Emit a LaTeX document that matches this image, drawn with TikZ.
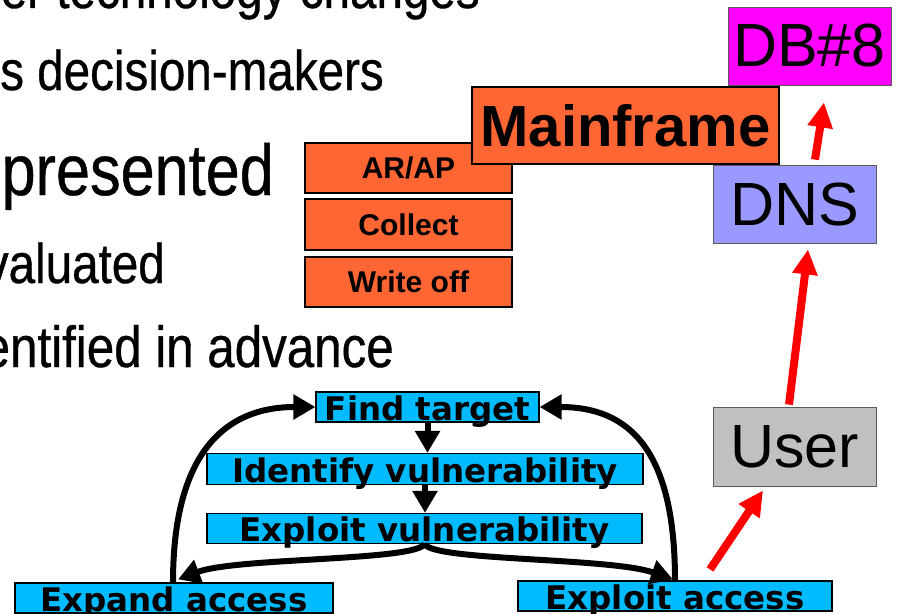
\documentclass[tikz,border=0pt]{standalone}
\usepackage{fontspec}
\setmainfont{Liberation Sans}
\newfontfamily\narrowfont[FakeStretch=0.85,FakeBold=0.6]{Liberation Sans}
\newfontfamily\flowfont{DejaVu Sans}
\usetikzlibrary{arrows.meta}
\definecolor{orangec}{RGB}{255,102,51}
\definecolor{magentac}{RGB}{255,0,255}
\definecolor{dnsc}{RGB}{153,153,255}
\definecolor{userc}{RGB}{192,192,192}
\definecolor{bluec}{RGB}{0,187,255}
\definecolor{redc}{RGB}{255,0,0}
\tikzset{
  lefttext/.style={inner sep=0pt, anchor=base east, font=\narrowfont\fontsize{56}{60}\selectfont},
  orangebox/.style={draw=black, line width=1.5pt, fill=orangec, inner sep=0pt, font=\bfseries\fontsize{30}{30}\selectfont},
  netbox/.style={draw=gray!70!black, line width=0.8pt, inner sep=0pt, minimum width=163pt, minimum height=78pt, font=\fontsize{61}{61}\selectfont},
  flowbox/.style={draw=black, line width=1.2pt, fill=bluec, inner sep=0pt, text height=26pt, text depth=0pt, minimum height=30pt, font=\flowfont\bfseries\fontsize{32.5}{32.5}\selectfont},
  redarrow/.style={draw=redc, line width=8pt, -{Triangle[length=25pt,width=24pt]}},
  blackarrow/.style={draw=black, line width=6pt, -{Triangle[length=22pt,width=24pt]}},
}
\begin{document}
\begin{tikzpicture}[x=1pt,y=-1pt]
\useasboundingbox (0,0) rectangle (899,613);
\clip (0,0) rectangle (899,613);
% left bullet texts
\node[lefttext] (t1) at (480,8) {er technology changes};
\node[lefttext] (t2) at (384,90) {s decision-makers};
\node[lefttext, font=\narrowfont\fontsize{72}{76}\selectfont] (t3) at (274,195) {presented};
\node[lefttext] (t4) at (165,283) {valuated};
\node[lefttext, font=\narrowfont\fontsize{58}{62}\selectfont] (t5) at (394,367) {entified in advance};
% orange boxes
\node[orangebox, minimum width=207pt, minimum height=50pt] (arap) at (408.5,168) {AR/AP};
\node[orangebox, minimum width=207pt, minimum height=51pt] (collect) at (408.5,224.5) {Collect};
\node[orangebox, minimum width=207pt, minimum height=50pt] (writeoff) at (408.5,282) {Write off};
\node[orangebox, minimum width=307pt, minimum height=77pt, font=\bfseries\fontsize{58}{58}\selectfont] (mainframe) at (625.5,125.5) {Mainframe};
% network boxes
\node[netbox, fill=magentac] (db8) at (809.5,46) {DB\#8};
\node[netbox, fill=dnsc] (dns) at (794.5,204) {DNS};
\node[netbox, fill=userc, minimum height=79pt] (user) at (794.5,446.5) {User};
% flow boxes
\node[flowbox, minimum width=223pt] (find) at (427.5,407) {Find target};
\node[flowbox, minimum width=436pt, minimum height=31pt, text height=27pt] (ident) at (425,469) {Identify vulnerability};
\node[flowbox, minimum width=435pt] (exvul) at (424.5,528.5) {Exploit vulnerability};
\node[flowbox, minimum width=318pt] (expand) at (174,598) {Expand access};
\node[flowbox, minimum width=314pt] (eacc) at (675,596) {Exploit access};
% black arrows
\draw[blackarrow] (find.south) -- (find.south |- ident.north);
\draw[blackarrow] (ident.south) -- (ident.south |- exvul.north);
\draw[blackarrow] (exvul.south) .. controls +(-10,17) and +(58,-22) .. ([shift={(4,-3)}]expand.north);
\draw[blackarrow] (exvul.south) .. controls +(10,17) and +(-63,-22) .. ([shift={(-2,-1)}]eacc.north);
\draw[blackarrow] ([xshift=-1pt]expand.north) .. controls +(0,-130) and +(-90,0) .. (find.west);
\draw[blackarrow] (eacc.north) .. controls +(0,-130) and +(90,0) .. (find.east);
% red arrows
\draw[redarrow] ([shift={(35,-11)}]eacc.north) -- ([shift={(-31.5,4)}]user.south);
\draw[redarrow] ([shift={(-5.5,-2)}]user.north) -- ([shift={(13.5,6)}]dns.south);
\draw[redarrow] ([shift={(20.5,-5)}]dns.north) -- ([shift={(14.5,17)}]db8.south);
\end{tikzpicture}
\end{document}
